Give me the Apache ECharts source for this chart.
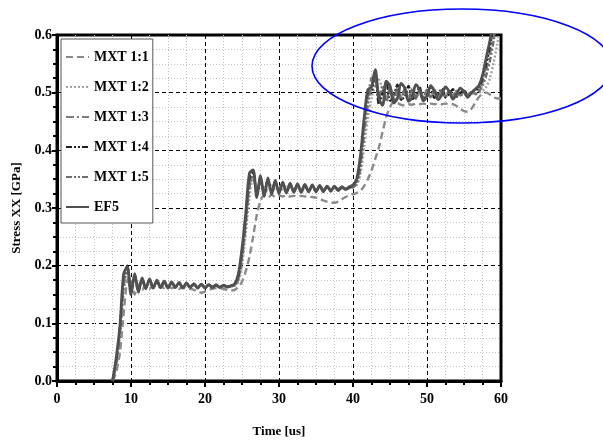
<!DOCTYPE html>
<html>
<head>
<meta charset="utf-8">
<script src="https://cdn.jsdelivr.net/npm/echarts@6/dist/echarts.min.js"></script>
<style>html,body{margin:0;padding:0;background:#fff}#c{width:603px;height:445px}</style>
</head>
<body>
<div id="c"></div>
<script>
const seriesNames = ['MXT 1:1','MXT 1:2','MXT 1:3','MXT 1:4','MXT 1:5','EF5'];
const xTicks = [0,10,20,30,40,50,60];
const yTicks = [0.0,0.1,0.2,0.3,0.4,0.5,0.6];
const times = [
 7.5,8,8.5,9,9.5,10,10.5,11,11.5,12,
 12.5,13,13.5,14,14.5,15,15.5,16,16.5,17,
 17.5,18,18.5,19,19.5,20,20.5,21,21.5,22,
 22.5,23,23.5,24,24.5,25,25.5,26,26.5,27,
 27.5,28,28.5,29,29.5,30,30.5,31,31.5,32,
 32.5,33,33.5,34,34.5,35,35.5,36,36.5,37,
 37.5,38,38.5,39,39.5,40,40.5,41,41.5,42,
 42.5,43,43.5,44,44.5,45,45.5,46,46.5,47,
 47.5,48,48.5,49,49.5,50,50.5,51,51.5,52,
 52.5,53,53.5,54,54.5,55,55.5,56,56.5,57,
 57.5,58,58.5,59,59.5,60];
const mxt11 = [
 0.000,0.015,0.050,0.115,0.175,0.180,0.150,0.168,0.158,0.166,
 0.160,0.165,0.161,0.164,0.161,0.164,0.161,0.163,0.160,0.162,
 0.160,0.160,0.158,0.156,0.153,0.155,0.158,0.160,0.161,0.161,
 0.160,0.158,0.157,0.158,0.163,0.172,0.190,0.215,0.250,0.288,
 0.312,0.322,0.318,0.323,0.319,0.322,0.320,0.322,0.320,0.321,
 0.320,0.321,0.320,0.320,0.319,0.318,0.316,0.313,0.311,0.310,
 0.309,0.311,0.315,0.319,0.322,0.324,0.326,0.330,0.338,0.350,
 0.365,0.385,0.405,0.432,0.458,0.475,0.484,0.482,0.479,0.478,
 0.480,0.479,0.481,0.480,0.481,0.480,0.481,0.480,0.481,0.480,
 0.481,0.480,0.480,0.477,0.472,0.468,0.467,0.472,0.482,0.492,
 0.498,0.500,0.497,0.492,0.490,0.490];
const mxt12 = [
 0.000,0.025,0.075,0.150,0.190,0.165,0.176,0.160,0.173,0.163,
 0.172,0.163,0.171,0.164,0.170,0.163,0.169,0.164,0.168,0.163,
 0.168,0.164,0.167,0.163,0.166,0.163,0.166,0.164,0.165,0.164,
 0.165,0.164,0.164,0.165,0.172,0.200,0.255,0.318,0.350,0.338,
 0.335,0.340,0.330,0.339,0.331,0.338,0.332,0.337,0.332,0.336,
 0.333,0.336,0.333,0.335,0.333,0.335,0.333,0.335,0.334,0.334,
 0.334,0.334,0.334,0.334,0.335,0.336,0.340,0.358,0.405,0.455,
 0.490,0.512,0.522,0.505,0.495,0.500,0.494,0.503,0.495,0.502,
 0.496,0.502,0.496,0.501,0.497,0.501,0.497,0.501,0.497,0.500,
 0.497,0.500,0.497,0.500,0.497,0.499,0.498,0.499,0.498,0.500,
 0.503,0.510,0.525,0.552,0.585,0.625];
const mxt13 = [
 0.000,0.030,0.085,0.165,0.195,0.158,0.180,0.158,0.175,0.163,
 0.174,0.163,0.172,0.164,0.171,0.163,0.170,0.164,0.169,0.163,
 0.168,0.164,0.167,0.163,0.167,0.163,0.166,0.164,0.166,0.164,
 0.165,0.164,0.165,0.166,0.178,0.218,0.278,0.340,0.360,0.328,
 0.348,0.326,0.346,0.328,0.344,0.329,0.342,0.329,0.341,0.330,
 0.340,0.330,0.339,0.331,0.338,0.331,0.337,0.331,0.337,0.332,
 0.336,0.332,0.335,0.334,0.335,0.337,0.345,0.378,0.440,0.490,
 0.525,0.528,0.488,0.512,0.485,0.510,0.487,0.509,0.488,0.508,
 0.489,0.507,0.490,0.506,0.491,0.505,0.492,0.505,0.492,0.504,
 0.493,0.504,0.494,0.503,0.495,0.502,0.496,0.501,0.498,0.505,
 0.518,0.540,0.568,0.600,0.635,0.675];
const mxt14 = [
 0.000,0.035,0.090,0.175,0.200,0.155,0.182,0.157,0.176,0.162,
 0.175,0.162,0.173,0.163,0.172,0.162,0.171,0.163,0.170,0.162,
 0.169,0.163,0.168,0.162,0.168,0.162,0.167,0.163,0.166,0.163,
 0.166,0.164,0.165,0.167,0.182,0.225,0.285,0.350,0.362,0.322,
 0.352,0.323,0.349,0.326,0.346,0.327,0.344,0.327,0.342,0.328,
 0.341,0.328,0.340,0.329,0.339,0.329,0.338,0.330,0.338,0.330,
 0.337,0.331,0.336,0.333,0.336,0.338,0.348,0.385,0.448,0.498,
 0.500,0.532,0.480,0.500,0.518,0.486,0.494,0.514,0.488,0.493,
 0.512,0.489,0.495,0.510,0.490,0.496,0.508,0.491,0.497,0.507,
 0.492,0.498,0.506,0.493,0.499,0.505,0.495,0.500,0.504,0.508,
 0.525,0.550,0.580,0.615,0.650,0.690];
const mxt15 = [
 0.000,0.032,0.088,0.170,0.197,0.153,0.184,0.156,0.177,0.161,
 0.176,0.162,0.174,0.162,0.172,0.162,0.171,0.162,0.170,0.162,
 0.169,0.162,0.168,0.162,0.167,0.162,0.167,0.163,0.166,0.163,
 0.165,0.163,0.164,0.166,0.176,0.212,0.270,0.335,0.358,0.330,
 0.345,0.325,0.348,0.327,0.345,0.328,0.343,0.328,0.341,0.329,
 0.340,0.329,0.339,0.330,0.338,0.330,0.337,0.330,0.337,0.331,
 0.336,0.331,0.335,0.333,0.334,0.336,0.342,0.370,0.428,0.478,
 0.512,0.525,0.495,0.505,0.485,0.508,0.486,0.507,0.488,0.506,
 0.489,0.506,0.490,0.505,0.490,0.505,0.491,0.504,0.492,0.504,
 0.492,0.503,0.493,0.503,0.494,0.502,0.495,0.501,0.497,0.502,
 0.512,0.530,0.555,0.590,0.625,0.665];
const ef5 = [
 0.000,0.040,0.095,0.185,0.198,0.150,0.186,0.154,0.179,0.160,
 0.177,0.161,0.175,0.162,0.173,0.161,0.172,0.162,0.171,0.161,
 0.170,0.162,0.169,0.161,0.168,0.161,0.167,0.162,0.167,0.162,
 0.166,0.163,0.165,0.168,0.185,0.230,0.290,0.360,0.366,0.318,
 0.356,0.320,0.352,0.324,0.348,0.325,0.345,0.326,0.343,0.327,
 0.342,0.327,0.341,0.328,0.340,0.328,0.339,0.328,0.338,0.329,
 0.338,0.330,0.337,0.332,0.337,0.340,0.350,0.390,0.455,0.505,
 0.510,0.540,0.490,0.478,0.520,0.512,0.482,0.490,0.516,0.508,
 0.485,0.492,0.514,0.505,0.486,0.494,0.512,0.503,0.488,0.496,
 0.510,0.502,0.489,0.497,0.508,0.502,0.492,0.500,0.506,0.512,
 0.530,0.560,0.590,0.625,0.660,0.700];

const allValues = [mxt11, mxt12, mxt13, mxt14, mxt15, ef5];
const styles = [
  {color:'#8a8a8a', width:2.4, type:[7,4]},
  {color:'#a2a2a2', width:2.4, type:[2,2]},
  {color:'#7c7c7c', width:2.4, type:[8,3,2,3]},
  {color:'#1e1e1e', width:2.2, type:[6,2,2,2,2,2]},
  {color:'#6e6e6e', width:2.4, type:[6,2,2,2,2,2]},
  {color:'#505050', width:2.8, type:'solid'}
];
const FONT = 'Liberation Serif';
const chart = echarts.init(document.getElementById('c'), null, {renderer:'canvas'});
const series = seriesNames.map((name, k) => ({
  name: name,
  type: 'line',
  symbol: 'none',
  showSymbol: false,
  smooth: 0.3,
  clip: true,
  data: times.map((t, i) => [t, allValues[k][i]]),
  lineStyle: {color: styles[k].color, width: styles[k].width, type: styles[k].type},
  itemStyle: {color: styles[k].color},
  z: 2 + k
}));
chart.setOption({
  animation: false,
  backgroundColor: '#fff',
  grid: {left: 57, right: 102, top: 35, bottom: 64, show: true, borderColor: '#000', borderWidth: 3, backgroundColor: 'transparent'},
  legend: {
    data: seriesNames,
    orient: 'vertical',
    left: 61, top: 39,
    itemWidth: 23, itemHeight: 14, itemGap: 16,
    padding: [11, 4, 9, 4],
    backgroundColor: '#fff',
    borderColor: '#555', borderWidth: 1,
    itemStyle: {opacity: 0},
    textStyle: {fontFamily: FONT, fontWeight: 'bold', fontSize: 14, color: '#000'},
    z: 20
  },
  xAxis: {
    type: 'value', min: xTicks[0], max: xTicks[xTicks.length-1], interval: 10,
    name: 'Time [us]', nameLocation: 'middle', nameGap: 44,
    nameTextStyle: {fontFamily: FONT, fontWeight: 'bold', fontSize: 13, color: '#000'},
    axisLine: {show: true, lineStyle: {color: '#000', width: 3}},
    axisTick: {show: true, inside: false, length: 6, lineStyle: {color: '#000', width: 2}},
    minorTick: {show: true, splitNumber: 4, length: 4, lineStyle: {color: '#000', width: 2}},
    axisLabel: {fontFamily: FONT, fontWeight: 'bold', fontSize: 14, color: '#000', margin: 11,
      formatter: v => String(v)},
    splitLine: {show: true, lineStyle: {color: '#000', width: 1, type: [4,3]}},
    minorSplitLine: {show: true, lineStyle: {color: '#c4c4c4', width: 1, type: [1,2]}}
  },
  yAxis: {
    type: 'value', min: yTicks[0], max: yTicks[yTicks.length-1], interval: 0.1,
    name: 'Stress XX [GPa]', nameLocation: 'middle', nameGap: 26,
    nameTextStyle: {fontFamily: FONT, fontWeight: 'bold', fontSize: 13, color: '#000'},
    axisLine: {show: true, lineStyle: {color: '#000', width: 3}},
    axisTick: {show: true, inside: false, length: 5, lineStyle: {color: '#000', width: 2}},
    minorTick: {show: true, splitNumber: 4, length: 4, lineStyle: {color: '#000', width: 2}},
    axisLabel: {fontFamily: FONT, fontWeight: 'bold', fontSize: 14, color: '#000', margin: 5,
      formatter: v => v.toFixed(1)},
    splitLine: {show: true, lineStyle: {color: '#000', width: 1, type: [4,3]}},
    minorSplitLine: {show: true, lineStyle: {color: '#c4c4c4', width: 1, type: [1,2]}}
  },
  graphic: [{
    type: 'ellipse',
    shape: {cx: 462, cy: 66, rx: 150, ry: 57},
    style: {fill: 'none', stroke: '#0000ff', lineWidth: 1.6},
    z: 100
  }],
  series: series
});
</script>
</body>
</html>
